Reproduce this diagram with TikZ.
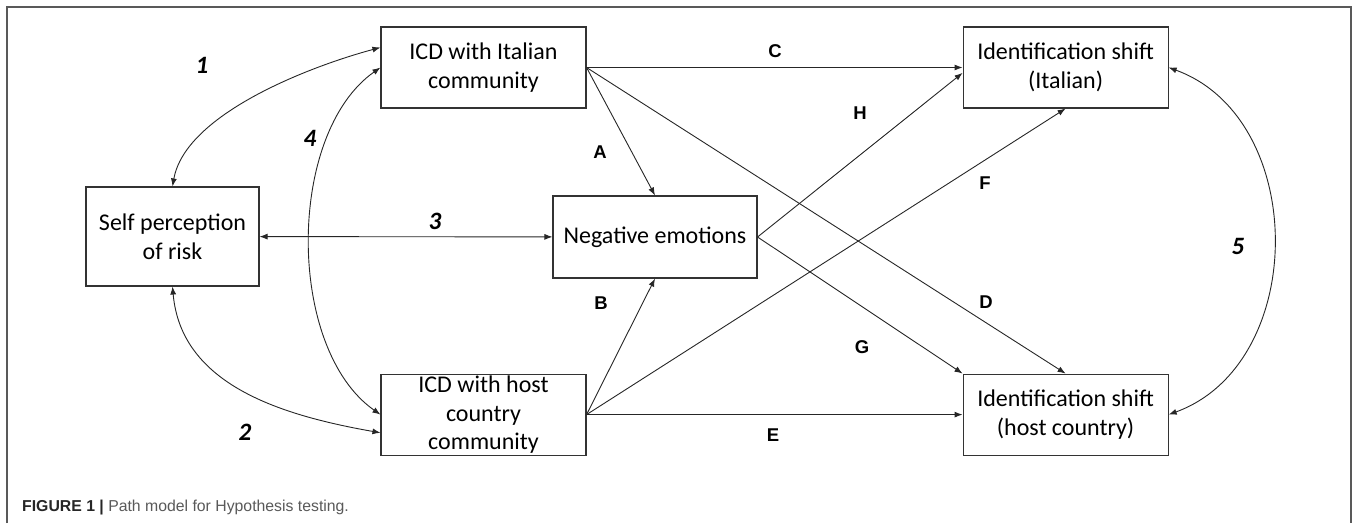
\documentclass[tikz,border=0pt]{standalone}
\usepackage{fontspec}
\setmainfont{Carlito}
\newfontfamily\labelfont{Liberation Sans}
\usepackage{xcolor}
\usepackage{tikz}
\usetikzlibrary{arrows.meta, positioning}

\begin{document}
\begin{tikzpicture}[
        x=1pt, y=1pt,
        box/.style={
            draw=black!80,
            line width=1.1pt,
            minimum width=205pt,
            minimum height=81pt,
            inner sep=0pt,
            align=center,
            font=\fontsize{24}{28.5}\selectfont
        },
        arrow/.style={-{Latex[length=8pt, width=6pt]}, line width=0.9pt, draw=black!85},
        twoway/.style={{Latex[length=8pt, width=6pt]}-{Latex[length=8pt, width=6pt]}, line width=0.9pt, draw=black!85},
        pathlabel/.style={font=\labelfont\bfseries\fontsize{18.5}{21}\selectfont},
        covlabel/.style={font=\bfseries\itshape\fontsize{25}{28}\selectfont}
    ]
        \useasboundingbox (0,0) rectangle (1357,-523);
        \draw[black!65, line width=1.5pt] (7,-523) -- (7,-7) -- (1351,-7) -- (1351,-523);

        \node[box, minimum width=173pt, minimum height=99pt] (self) at (172.5,-236.5) {Self perception\\of risk};
        \node[box] (itaicd) at (483.5,-67.5) {ICD with Italian\\community};
        \node[box, below=265pt of itaicd] (hosticd) {ICD with host\\country\\community};
        \node[box, minimum width=204pt, minimum height=82pt] (neg) at (655,-237) {Negative emotions};
        \node[box, right=376pt of itaicd] (idita) {Identification shift\\(Italian)};
        \node[box, right=376pt of hosticd] (idhost) {Identification shift\\(host country)};

        \draw[twoway] (self.north) to[out=80, in=195, looseness=0.75] (itaicd.169);
        \draw[twoway] (self.south) to[out=-85, in=170] (hosticd.190);
        \draw[twoway] (self) -- (neg);
        \draw[twoway] (itaicd.west) to[out=215, in=145, looseness=0.85] (hosticd.west);
        \draw[twoway] (idita.east) to[out=-20, in=20, looseness=1.1] (idhost.east);

        \draw[arrow] (itaicd.east) -- (neg.north);
        \draw[arrow] (hosticd.east) -- (neg.south);
        \draw[arrow] (itaicd.east) -- (idita.west);
        \draw[arrow] (itaicd.east) -- (idhost.north);
        \draw[arrow] (hosticd.east) -- (idhost.west);
        \draw[arrow] (hosticd.east) -- (idita.south);
        \draw[arrow] (neg.east) -- (idhost.north west);
        \draw[arrow] (neg.east) -- (idita.183);

        \node[covlabel] (one) at (202,-65) {1};
        \node[covlabel] (two) at (245,-432) {2};
        \node[covlabel] (three) at (435,-221) {3};
        \node[covlabel] (four) at (310,-138) {4};
        \node[covlabel] (five) at (1238,-246) {5};

        \node[pathlabel] (pa) at (600,-152) {A};
        \node[pathlabel] (pb) at (601,-303) {B};
        \node[pathlabel] (pc) at (775,-51) {C};
        \node[pathlabel] (pd) at (986,-302) {D};
        \node[pathlabel] (pe) at (773,-435) {E};
        \node[pathlabel] (pf) at (985,-183) {F};
        \node[pathlabel] (pg) at (862,-347) {G};
        \node[pathlabel] (ph) at (860,-113) {H};

        \node[anchor=base west, inner sep=0pt, text=black!65, font=\labelfont\fontsize{15.8}{19}\selectfont] (caption) at (22,-511)
            {{\color{black!85}\bfseries FIGURE 1 |} Path model for Hypothesis testing.};
    \end{tikzpicture}
\end{document}
